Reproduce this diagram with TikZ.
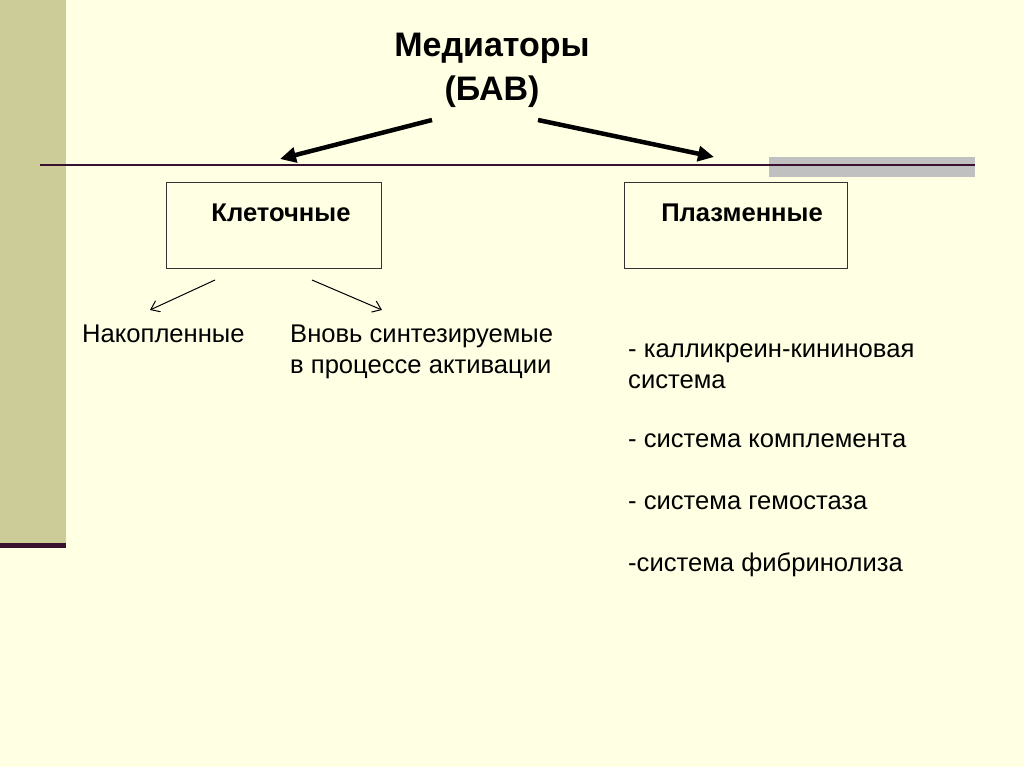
\documentclass[tikz,border=0pt]{standalone}
\usepackage{fontspec}
\setmainfont{Liberation Sans}
\usetikzlibrary{arrows.meta}
\definecolor{bg}{HTML}{FFFFE4}
\definecolor{olive}{HTML}{CCCC99}
\definecolor{rule}{HTML}{3A1030}
\definecolor{greybar}{HTML}{C0C0C0}
\tikzset{
  txt/.style={inner sep=0pt, font=\fontsize{25.6}{31}\selectfont, align=left, text=black},
  boxtxt/.style={inner sep=0pt, font=\bfseries\fontsize{25.6}{31}\selectfont, text=black},
  catbox/.style={draw=black!80, line width=1pt, minimum height=85pt, inner sep=0pt},
  bigarrow/.style={line width=4.5pt, -{Triangle[length=16pt,width=15pt]}},
  thinarrow/.style={line width=1pt, -{Straight Barb[length=8pt,width=12pt]}},
}
\begin{document}
\begin{tikzpicture}[x=1pt,y=-1pt]
\useasboundingbox (0,0) rectangle (1024,767);
\fill[bg] (0,0) rectangle (1024,767);
% decorations
\fill[olive] (0,0) rectangle (66,546);
\fill[rule] (0,543) rectangle (66,548);
\fill[greybar] (769,157) rectangle (975,177);
\draw[rule, line width=2.5pt] (40,165) -- (975,165);
% title
\node[inner sep=0pt, align=center, font=\bfseries\fontsize{34}{44}\selectfont] (t) at (492,70) {Медиаторы\\(БАВ)};
\coordinate (a1s) at (432,120);
\coordinate (a1e) at (280,159);
\coordinate (a2s) at (538,120);
\coordinate (a2e) at (714,157);
\draw[bigarrow] (a1s) -- (a1e);
\draw[bigarrow] (a2s) -- (a2e);
% boxes
\node[catbox, minimum width=215pt] (k) at (273.5,225.5) {};
\node[boxtxt] (kt) at (281,213) {Клеточные};
\node[catbox, minimum width=223pt] (p) at (735.5,225.5) {};
\node[boxtxt] (pt) at (742,213) {Плазменные};
% thin arrows
\coordinate (b1s) at (215,280);
\coordinate (b1e) at (150,310);
\coordinate (b2s) at (312,280);
\coordinate (b2e) at (382,310);
\draw[thinarrow] (b1s) -- (b1e);
\draw[thinarrow] (b2s) -- (b2e);
% texts
\node[txt, anchor=base west] (n1) at (82,342) {Накопленные};
\node[txt, anchor=base west] (n2) at (290,342) {Вновь синтезируемые};
\node[txt, anchor=base west] (n3) at (290,373) {в процессе активации};
\node[txt, anchor=base west] (r1) at (628,357) {- калликреин-кининовая};
\node[txt, anchor=base west] (r2) at (628,388) {система};
\node[txt, anchor=base west] (r3) at (628,447) {- система комплемента};
\node[txt, anchor=base west] (r4) at (628,509) {- система гемостаза};
\node[txt, anchor=base west] (r5) at (628,571) {-система фибринолиза};
\end{tikzpicture}
\end{document}
